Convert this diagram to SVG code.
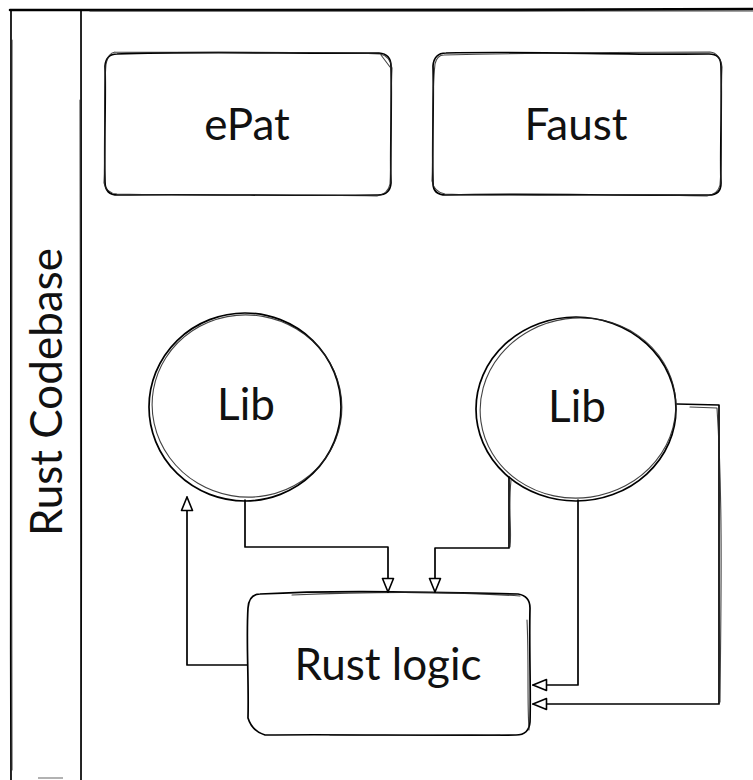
<svg xmlns="http://www.w3.org/2000/svg" width="753" height="780" viewBox="0 0 753 780">
  <defs>
    <style>
      .sk { fill: none; stroke: #000; stroke-width: 1.7; stroke-linecap: round; stroke-linejoin: round; }
      .sk2 { fill: none; stroke: #222; stroke-width: 1.1; stroke-linecap: round; stroke-linejoin: round; opacity: 0.85; }
      .bg { fill: #fff; stroke: none; }
      .lbl { font-family: Lato, "Open Sans", "Liberation Sans", sans-serif; font-size: 44px; fill: #111; text-anchor: middle; }
    </style>
    <marker id="open-arrow" viewBox="0 0 16 14" refX="15" refY="7" markerWidth="16" markerHeight="14" markerUnits="userSpaceOnUse" orient="auto">
      <path d="M1.5,1.5 L15,7 L1.5,12.5 Z" fill="#fff" stroke="#000" stroke-width="1.6" stroke-linejoin="round"/>
    </marker>
  </defs>

  <rect x="0" y="0" width="753" height="780" fill="#fff"/>

  <!-- pool frame with vertical header -->
  <g id="pool-rust-codebase">
    <path class="sk" d="M10,10 C200,9 500,11 753,9" style="stroke-width:2.6"/>
    <path class="sk2" d="M90,11 C300,12 520,10 753,11"/>
    <path class="sk" d="M11,10 C12,200 10,500 11,780"/>
    <path class="sk2" d="M12,40 C13,250 11,520 12,770"/>
    <path class="sk" d="M81,10 C80,220 82,520 81,780"/>
    <path class="sk2" d="M80,100 C81,300 80,560 81,760"/>
    <path d="M38,778 L63,778" stroke="#999" stroke-width="1.5"/>
    <text class="lbl" transform="translate(62,392) rotate(-90)" x="0" y="0">Rust Codebase</text>
  </g>

  <!-- ePat -->
  <g id="node-epat">
    <path class="bg" d="M117,54 L379,53 Q391,54 391,66 L391,183 Q390,195 378,195 L118,195 Q105,195 105,182 L105,66 Q106,54 117,54 Z"/>
    <path class="sk" d="M117,54 C200,51 300,54 379,53 Q391,54 391,66 C392,110 390,150 391,183 Q390,195 378,195 C300,196 200,194 118,195 Q105,195 105,182 C104,140 106,100 105,66 Q106,54 117,54 Z"/>
    <path class="sk2" d="M115,52 C210,53 290,51 380,54 Q390,56 392,68 C390,110 392,150 390,184 Q388,194 377,196 C290,194 210,196 117,194 Q106,193 104,183 C106,140 103,100 106,64 Q108,53 115,52"/>
    <path class="sk2" d="M381,55 L390,67"/>
    <text class="lbl" x="247" y="140">ePat</text>
  </g>

  <!-- Faust -->
  <g id="node-faust">
    <path class="bg" d="M446,53 L709,54 Q721,54 721,66 L721,183 Q721,195 709,195 L446,195 Q433,195 433,183 L433,66 Q434,53 446,53 Z"/>
    <path class="sk" d="M446,53 C530,51 620,55 709,54 Q721,54 721,66 C722,110 720,150 721,183 Q721,195 709,195 C620,196 530,193 446,195 Q433,195 433,183 C432,140 434,100 433,66 Q434,53 446,53 Z"/>
    <path class="sk2" d="M444,55 C540,53 620,52 710,52 Q720,53 722,67 C720,110 723,150 720,185 Q718,194 707,196 C620,193 540,197 445,194 Q434,192 432,181 C434,140 431,100 435,64 Q437,55 444,55"/>
    <text class="lbl" x="576" y="140">Faust</text>
  </g>

  <!-- Lib (left) -->
  <g id="node-lib-left">
    <ellipse class="bg" cx="245" cy="407" rx="96" ry="94"/>
    <ellipse class="sk" cx="245" cy="407" rx="96" ry="94"/>
    <ellipse class="sk2" cx="247" cy="406" rx="95" ry="91" transform="rotate(10 247 406)"/>
    <text class="lbl" x="246" y="420">Lib</text>
  </g>

  <!-- Lib (right) -->
  <g id="node-lib-right">
    <ellipse class="bg" cx="576" cy="409" rx="100" ry="92"/>
    <ellipse class="sk" cx="576" cy="409" rx="100" ry="92"/>
    <ellipse class="sk2" cx="578" cy="408" rx="98" ry="90" transform="rotate(-8 578 408)"/>
    <text class="lbl" x="577" y="422">Lib</text>
  </g>

  <!-- Rust logic -->
  <g id="node-rust-logic">
    <path class="bg" d="M260,594 L518,594 Q530,596 530,608 L530,722 Q529,735 516,735 L262,735 Q247,733 247,720 L247,608 Q248,594 260,594 Z"/>
    <path class="sk" d="M260,594 C350,589 440,593 518,594 Q530,596 530,608 C529,650 531,690 530,722 Q529,735 516,735 C430,736 340,734 265,735 Q252,731 248,718 C249,680 246,640 248,608 Q249,594 260,594 Z"/>
    <path class="sk2" d="M292,595 C380,591 460,592 520,596 M527,620 C529,660 527,700 529,730 M330,735 C400,736 460,734 500,735"/>
    <text class="lbl" x="388" y="680">Rust logic</text>
  </g>

  <!-- connectors -->
  <g id="connectors">
    <path class="sk" d="M245,500 L245,547 L388,547 L388,592" marker-end="url(#open-arrow)"/>
    <path class="sk" d="M509,477 L509,548 L435,548 L435,592" marker-end="url(#open-arrow)"/>
    <path class="sk2" d="M511,480 C508,510 512,530 510,547"/>
    <path class="sk" d="M578,500 L578,685 L533,685" marker-end="url(#open-arrow)"/>
    <path class="sk" d="M677,404 L719,405 L719,704 L533,704" marker-end="url(#open-arrow)"/>
    <path class="sk2" d="M690,407 L717,408 C723,500 721,600 720,702"/>
    <path class="sk" d="M247,665 L187,665 L187,497" marker-end="url(#open-arrow)"/>
  </g>
</svg>
